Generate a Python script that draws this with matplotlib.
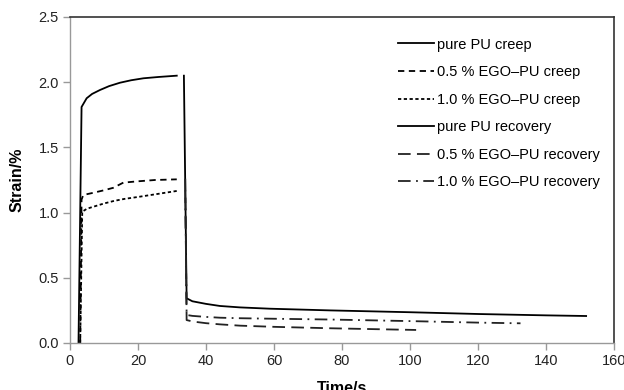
import matplotlib
matplotlib.use("Agg")
import matplotlib.pyplot as plt

plt.rcParams['font.family'] = ['Liberation Sans', 'DejaVu Sans']

# Creep curves
pu_creep_t = [2.5, 3.4, 4.9, 6.5, 8.8, 11.5, 14.7, 18, 21.6, 26, 31.4]
pu_creep_s = [0.0, 1.81, 1.877, 1.91, 1.94, 1.97, 1.996, 2.015, 2.03, 2.04, 2.05]

ego05_creep_t = [3.0, 3.4, 3.9, 6.5, 9.8, 12.7, 15.7, 20, 25, 31.4]
ego05_creep_s = [0.0, 1.10, 1.135, 1.15, 1.17, 1.19, 1.23, 1.24, 1.25, 1.255]

ego10_creep_t = [3.0, 3.6, 5.0, 7.5, 10, 13, 16, 20, 25, 31.4]
ego10_creep_s = [0.0, 1.007, 1.03, 1.05, 1.07, 1.09, 1.105, 1.12, 1.14, 1.166]

# Recovery curves
pu_rec_t = [33.5, 34.3, 36, 40, 44.1, 50, 58.8, 76.5, 100, 120.6, 140, 151.8]
pu_rec_s = [2.05, 0.343, 0.32, 0.30, 0.284, 0.273, 0.263, 0.25, 0.236, 0.222, 0.212, 0.207]

ego05_rec_t = [33.9, 34.3, 36, 40, 44.1, 50, 60, 76.5, 90, 101.8]
ego05_rec_s = [1.26, 0.176, 0.165, 0.152, 0.143, 0.133, 0.124, 0.113, 0.106, 0.100]

ego10_rec_t = [33.9, 34.3, 36, 40, 44.1, 50, 60, 76.5, 100, 120.6, 132.5]
ego10_rec_s = [1.17, 0.215, 0.208, 0.2, 0.194, 0.19, 0.186, 0.18, 0.168, 0.156, 0.151]

labels = ["pure PU creep", "0.5 % EGO\u2013PU creep", "1.0 % EGO\u2013PU creep",
          "pure PU recovery", "0.5 % EGO\u2013PU recovery", "1.0 % EGO\u2013PU recovery"]

x_ticks = [0, 20, 40, 60, 80, 100, 120, 140, 160]
y_ticks = [0.0, 0.5, 1.0, 1.5, 2.0, 2.5]

fig = plt.figure(figsize=(6.24, 3.9), dpi=100)
ax = fig.add_axes([70/624, 47/390, 544/624, 326/390])

lw = 1.3
ax.plot(pu_creep_t, pu_creep_s, color='black', lw=lw, label=labels[0])
ax.plot(ego05_creep_t, ego05_creep_s, color='black', lw=lw, dashes=(3.5, 2.5), label=labels[1])
ax.plot(ego10_creep_t, ego10_creep_s, color='black', lw=lw, dashes=(1.8, 1.4), label=labels[2])
ax.plot(pu_rec_t, pu_rec_s, color='black', lw=lw, label=labels[3])
ax.plot(ego05_rec_t, ego05_rec_s, color='#222222', lw=lw, dashes=(7, 3.5), label=labels[4])
ax.plot(ego10_rec_t, ego10_rec_s, color='#222222', lw=lw, dashes=(7, 3, 1, 3), label=labels[5])

ax.set_xlim(0, 160)
ax.set_ylim(0, 2.5)
ax.set_xticks(x_ticks)
ax.set_yticks(y_ticks)
ax.set_yticklabels([f"{v:.1f}" for v in y_ticks])

for s in ['left', 'bottom']:
    ax.spines[s].set_color('#999999')
    ax.spines[s].set_linewidth(1.0)
for s in ['top', 'right']:
    ax.spines[s].set_color('#333333')
    ax.spines[s].set_linewidth(1.2)

ax.tick_params(axis='both', direction='out', length=5, width=1.0, color='#999999',
               labelsize=10.5, labelcolor='#222222', pad=3)

ax.set_xlabel("Time/s", fontsize=11.5, fontweight='bold', labelpad=9)
ax.set_ylabel("Strain/%", fontsize=11.5, fontweight='bold', labelpad=10)

leg = ax.legend(loc='upper left', bbox_to_anchor=(0.603, 0.937), frameon=False,
                fontsize=10.5, handlelength=2.5, handletextpad=0.2,
                labelspacing=0.93, borderpad=0, borderaxespad=0)

fig.savefig("out.png", dpi=100)
